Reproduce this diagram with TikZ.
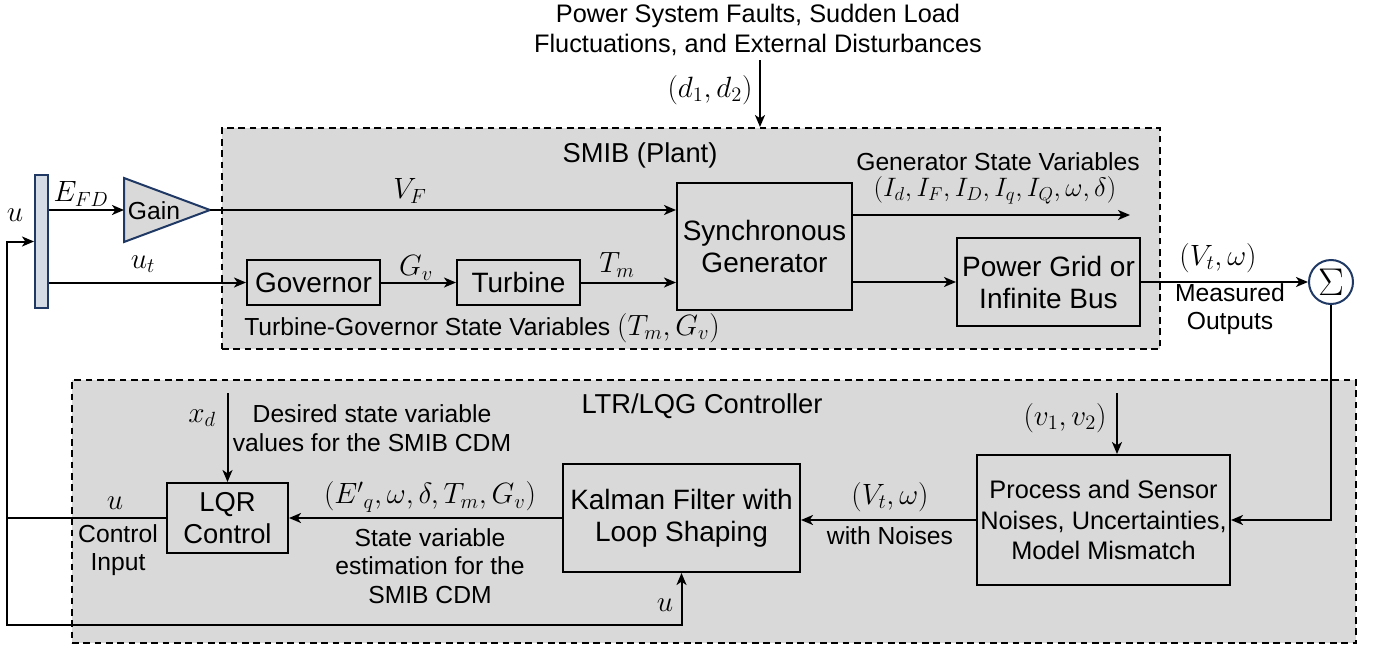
\RequirePackage{fix-cm}
\documentclass[tikz,border=0pt]{standalone}
\usepackage{fontspec}
\setmainfont{Liberation Sans}
\usetikzlibrary{arrows.meta}
\definecolor{panel}{HTML}{D9D9D9}
\definecolor{navy}{HTML}{1F3864}
\definecolor{barfill}{HTML}{D6DCE5}
\newcommand{\pxl}[1]{#1*0.75pt}
\newcommand{\bigmath}[1]{{\fontsize{22}{26}\selectfont$#1$}}
\tikzset{
  blk/.style={draw, line width=1.5pt, fill=panel, inner sep=0pt, align=center,
    font=\fontsize{21}{24}\selectfont},
  region/.style={draw, dash pattern=on 5pt off 3.5pt, line width=1.5pt, fill=panel, inner sep=0pt},
  lbl/.style={inner sep=0pt, align=center, font=\fontsize{18.5}{21.5}\selectfont},
  mth/.style={inner sep=0pt, font=\fontsize{22}{26}\selectfont},
  ttl/.style={inner sep=0pt, font=\fontsize{20.5}{24}\selectfont},
  conn/.style={line width=1.5pt},
  wire/.style={line width=1.5pt, -{Stealth[length=9pt,width=7.5pt,inset=2.5pt]}},
}
\begin{document}
\begin{tikzpicture}[x=0.75pt,y=-0.75pt]
\useasboundingbox (0,0) rectangle (1375,650);

% regions
\node[region, minimum width=\pxl{938}, minimum height=\pxl{221}] (plant) at (691,238.5) {};
\node[region, minimum width=\pxl{1284}, minimum height=\pxl{263}] (ltr) at (714,511.5) {};
\node[ttl] (plantttl) at (640,155) {SMIB (Plant)};
\node[ttl] (ltrttl) at (702,406) {LTR/LQG Controller};

% plant blocks
\node[draw=navy, line width=1.5pt, fill=barfill, minimum width=\pxl{13}, minimum height=\pxl{133}, inner sep=0pt] (bar) at (41.5,241.5) {};
\draw[draw=navy, line width=1.5pt, fill=panel] (124,178) -- (210,210) -- (124,242) -- cycle;
\coordinate (gainL) at (124,210);
\coordinate (gainR) at (210,210);
\node[inner sep=0pt, font=\fontsize{18.5}{22}\selectfont] (gaintxt) at (154,211) {Gain};
\node[blk, minimum width=\pxl{133}, minimum height=\pxl{45}] (gov) at (313.5,282.5) {Governor};
\node[blk, minimum width=\pxl{123}, minimum height=\pxl{45}] (turb) at (518.5,282.5) {Turbine};
\node[blk, minimum width=\pxl{175}, minimum height=\pxl{127}] (sg) at (764.5,246.5) {Synchronous\\Generator};
\node[blk, minimum width=\pxl{183}, minimum height=\pxl{88}] (grid) at (1048.5,282) {Power Grid or\\Infinite Bus};
\node[circle, draw=navy, line width=1.5pt, fill=white, minimum size=\pxl{44}, inner sep=0pt,
  font=\fontsize{29}{30}\selectfont] (sig) at (1331,282) {$\Sigma$};

% controller blocks
\node[blk, font=\fontsize{20.5}{24}\selectfont, minimum width=\pxl{121}, minimum height=\pxl{70}] (lqr) at (227.5,518) {LQR\\Control};
\node[blk, minimum width=\pxl{237}, minimum height=\pxl{108}] (kal) at (681.5,518) {Kalman Filter with\\Loop Shaping};
\node[blk, font=\fontsize{19}{23}\selectfont, minimum width=\pxl{253}, minimum height=\pxl{130}] (proc) at (1103.5,520) {Process and Sensor\\Noises, Uncertainties,\\Model Mismatch};

% top disturbance
\node[lbl, font=\fontsize{19}{22}\selectfont] (dist) at (758,30) {Power System Faults, Sudden Load\\Fluctuations, and External Disturbances};
\coordinate (dtop) at (760,60);
\draw[wire] (dtop) -- (dtop |- plant.north);
\node[mth] (dlab) at (710,90) {$(d_1,d_2)$};

% plant connectors
\draw[wire] (bar.east |- gainL) -- (gainL);
\node[mth] (efd) at (81,194) {$E_{FD}$};
\draw[wire] (gainR) -- (gainR -| sg.west);
\node[mth] (vf) at (410,191) {$V_F$};
\draw[wire] (bar.east |- gov.west) -- (gov.west);
\node[mth] (ut) at (143,264) {$u_t$};
\draw[wire] (gov.east) -- (turb.west);
\node[mth] (gvl) at (416,268) {$G_v$};
\draw[wire] (turb.east) -- (turb.east -| sg.west);
\node[mth] (tml) at (617,265) {$T_m$};
\coordinate (gs) at (1130,215);
\draw[wire] (sg.east |- gs) -- (gs);
\node[lbl] (gsv) at (998,162) {Generator State Variables};
\node[mth, font=\fontsize{20}{24}\selectfont] (gsvm) at (995,190) {$(I_d,I_F,I_D,I_q,I_Q,\omega,\delta)$};
\draw[wire] (sg.east |- grid.west) -- (grid.west);
\node[lbl] (tgsv) at (482,328) {Turbine-Governor State Variables \bigmath{(T_m,G_v)}};
\draw[wire] (grid.east) -- (sig.west);
\node[mth] (vtw) at (1218,258) {$(V_t,\omega)$};
\node[lbl] (meas) at (1230,309) {Measured\\Outputs};

% controller connectors
\draw[wire] (sig.south) |- (proc.east);
\coordinate (vtop) at (1117,393);
\draw[wire] (vtop) -- (vtop |- proc.north);
\node[mth] (vv) at (1065,418) {$(v_1,v_2)$};
\draw[wire] (proc.west) -- (kal.east |- proc.west);
\node[mth] (vtw2) at (890,497) {$(V_t,\omega)$};
\node[lbl] (wn) at (890,536) {with Noises};
\draw[wire] (kal.west) -- (lqr.east);
\node[mth] (est) at (430,497) {$(E'{}_q,\omega,\delta,T_m,G_v)$};
\node[lbl] (estt) at (430,566) {State variable\\estimation for the\\SMIB CDM};
\coordinate (xtop) at (227.5,393);
\draw[wire] (xtop) -- (lqr.north);
\node[mth] (xd) at (202,418) {$x_d$};
\node[lbl] (des) at (372,428) {Desired state variable\\values for the SMIB CDM};

% feedback u
\coordinate (fb) at (7,518);
\coordinate (fbb) at (7,625);
\draw[conn] (lqr.west) -- (fb);
\draw[wire] (fb) |- (bar.west);
\draw[wire] (fb) -- (fbb) -| (kal.south);
\node[mth] (ulab) at (15,215) {$u$};
\node[mth] (ulab2) at (115,503) {$u$};
\node[lbl] (ci) at (118,550) {Control\\Input};
\node[mth] (ulab3) at (665,605) {$u$};
\end{tikzpicture}
\end{document}
